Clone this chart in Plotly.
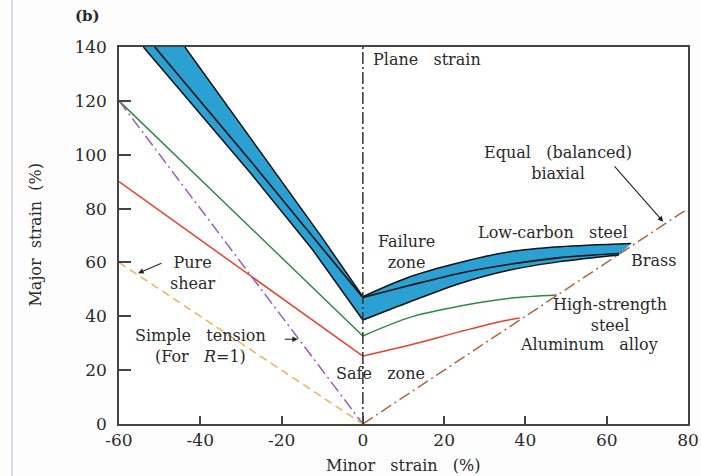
import plotly.graph_objects as go

# ---------------- data ----------------
# Low-carbon steel band (blue) - left branch (straight) edges
bandL_upper_x = [-43.8, -22.1, -10.2, 0.0]
bandL_upper_y = [140.0, 94.3, 69.6, 47.3]
bandL_lower_x = [-54.0, -27.8, -12.5, 0.0]
bandL_lower_y = [140.0, 93.5, 65.0, 38.6]
# right branch (curved) edges
bandR_upper_x = [0.0, 11.6, 23.9, 36.2, 48.5, 66.0]
bandR_upper_y = [47.3, 54.7, 60.0, 64.0, 65.8, 67.0]
bandR_lower_x = [0.0, 11.6, 23.9, 36.2, 48.5, 63.0]
bandR_lower_y = [38.6, 45.4, 52.2, 57.2, 60.3, 62.8]
# black centre line inside the band (brass on the right)
brassL_x = [-51.2, -25.5, -11.8, 0.0]
brassL_y = [140.0, 93.8, 68.6, 47.0]
brassR_x = [0.0, 11.6, 23.9, 36.2, 48.5, 63.0]
brassR_y = [47.0, 51.5, 56.0, 59.3, 61.8, 63.3]
# high-strength steel (green)
hssL_x = [-60.0, 0.0]
hssL_y = [120.0, 32.7]
hssR_x = [0.0, 11.6, 23.9, 36.2, 47.7]
hssR_y = [32.7, 39.6, 43.8, 46.7, 47.9]
# aluminum alloy (red)
aluL_x = [-60.0, 0.0]
aluL_y = [90.0, 25.2]
aluR_x = [0.0, 11.6, 23.9, 33.7, 38.6]
aluR_y = [25.2, 29.3, 34.3, 38.0, 39.4]
# reference strain paths
tension_x = [-60.0, 0.0]
tension_y = [120.0, 0.0]
shear_x = [-60.0, 0.0]
shear_y = [60.0, 0.0]
biax_x = [0.0, 80.0]
biax_y = [0.0, 80.0]
plane_x = [0.0, 0.0]
plane_y = [0.0, 140.0]

x_ticks = [-60, -40, -20, 0, 20, 40, 60, 80]
x_ticktext = ["-60", "-40", "-20", "0", "20", "40", "60", "80"]
y_ticks = [0, 20, 40, 60, 80, 100, 120, 140]
y_ticktext = ["0", "20", "40", "60", "80", "100", "120", "140"]

FONT = "DejaVu Serif"
TXT = "#2a2a2a"
NB = "\u00a0"
SP = NB * 3
BLUE = "#2ba0d2"
EDGE = "#111111"

fig = go.Figure()

def line(x, y, color, width=1.5, dash=None, shape="linear", fill=None):
    fig.add_trace(go.Scatter(x=x, y=y, mode="lines",
                             line=dict(color=color, width=width, dash=dash, shape=shape,
                                       smoothing=0.9),
                             fill=fill, fillcolor=BLUE if fill else None,
                             hoverinfo="skip", showlegend=False))

# blue band: fill between edges (left straight, right smooth)
line(bandL_lower_x, bandL_lower_y, EDGE)
line(bandL_upper_x, bandL_upper_y, EDGE, fill="tonexty")
line(bandR_lower_x, bandR_lower_y, EDGE, shape="spline")
line(bandR_upper_x, bandR_upper_y, EDGE, shape="spline", fill="tonexty")
line(brassL_x, brassL_y, EDGE, width=1.6)
line(brassR_x, brassR_y, EDGE, width=1.6, shape="spline")

line(hssL_x, hssL_y, "#2f8a46")
line(hssR_x, hssR_y, "#2f8a46", shape="spline")
line(aluL_x, aluL_y, "#e8412c")
line(aluR_x, aluR_y, "#e8412c", shape="spline")
line(tension_x, tension_y, "#9c5cb0", dash="12px,4px,2px,4px")
line(shear_x, shear_y, "#e8b45a", dash="8px,5px")
line(biax_x, biax_y, "#a8693f", dash="12px,4px,2px,4px")
line(plane_x, plane_y, "#333333", dash="12px,3px,2px,3px")

def label(x, y, text, xanchor="center"):
    fig.add_annotation(x=x, y=y, xref="x", yref="y", text=text, showarrow=False,
                       xanchor=xanchor, yanchor="middle", align="center",
                       font=dict(family=FONT, size=16, color=TXT))

label(2.0, 135.5, f"Plane{SP}strain", xanchor="left")
label(48.0, 97.1, f"Equal{SP}(balanced)<br>biaxial")
label(46.8, 71.3, f"Low-carbon{SP}steel")
label(10.7, 63.7, "Failure<br>zone")
label(71.5, 60.9, "Brass")
label(60.8, 40.6, "High-strength<br>steel")
label(55.6, 29.6, f"Aluminum{SP}alloy")
label(4.4, 18.8, f"Safe{SP}zone")
label(-41.8, 56.2, "Pure<br>shear")
label(-39.9, 28.9, f"Simple{SP}tension<br>(For{SP}<i>R</i>=1)")

def arrow(x0, y0, x1, y1):
    fig.add_annotation(x=x1, y=y1, ax=x0, ay=y0, xref="x", yref="y", axref="x", ayref="y",
                       text="", showarrow=True, arrowhead=2, arrowsize=1, arrowwidth=1.1,
                       arrowcolor="#222222")

arrow(61.6, 96.2, 73.9, 75.1)
arrow(-49.2, 59.9, -55.3, 56.0)
arrow(-19.6, 31.5, -16.0, 31.5)

# axis titles and panel label
fig.add_annotation(x=0.5, y=-0.111, xref="paper", yref="paper", showarrow=False,
                   text=f"Minor{SP}strain{SP}(%)", xanchor="center", yanchor="middle",
                   font=dict(family=FONT, size=16, color=TXT))
fig.add_annotation(x=-0.1476, y=0.5, xref="paper", yref="paper", showarrow=False,
                   text=f"Major{NB}{NB}strain{NB}{NB}(%)", textangle=-90,
                   xanchor="center", yanchor="middle",
                   font=dict(family=FONT, size=16, color=TXT))
fig.add_annotation(x=-0.0545, y=1.082, xref="paper", yref="paper", showarrow=False,
                   text="<b>(b)</b>", xanchor="center", yanchor="middle",
                   font=dict(family=FONT, size=15, color=TXT))

# faint page border line on the far left
fig.add_shape(type="line", xref="paper", yref="paper", x0=-0.188, x1=-0.188,
              y0=-0.2, y1=1.2, line=dict(color="#c9c9ee", width=1.5))

axis_common = dict(showgrid=False, zeroline=False, showline=True, linecolor="#444444",
                   linewidth=1.5, mirror=True, ticks="inside", tickcolor="#444444",
                   tickwidth=1.5, automargin=False,
                   tickfont=dict(family=FONT, size=17, color=TXT))

fig.update_xaxes(range=[-60, 80], tickvals=x_ticks, ticktext=x_ticktext, ticklen=8,
                 **axis_common)
fig.update_yaxes(range=[0, 140], tickvals=y_ticks, ticktext=y_ticktext, ticklen=12,
                 ticklabelstandoff=7, **axis_common)

fig.update_layout(width=701, height=476, autosize=False,
                  margin=dict(l=119, r=13, t=47, b=52),
                  paper_bgcolor="#fdfdfd", plot_bgcolor="white",
                  showlegend=False)

# remove the default 8px page margin so the figure fills the window exactly
fig.write_html("out.html", config={"displayModeBar": False},
               post_script="document.body.style.margin='0';document.body.style.padding='0';"
                           "document.documentElement.style.overflow='hidden';")
